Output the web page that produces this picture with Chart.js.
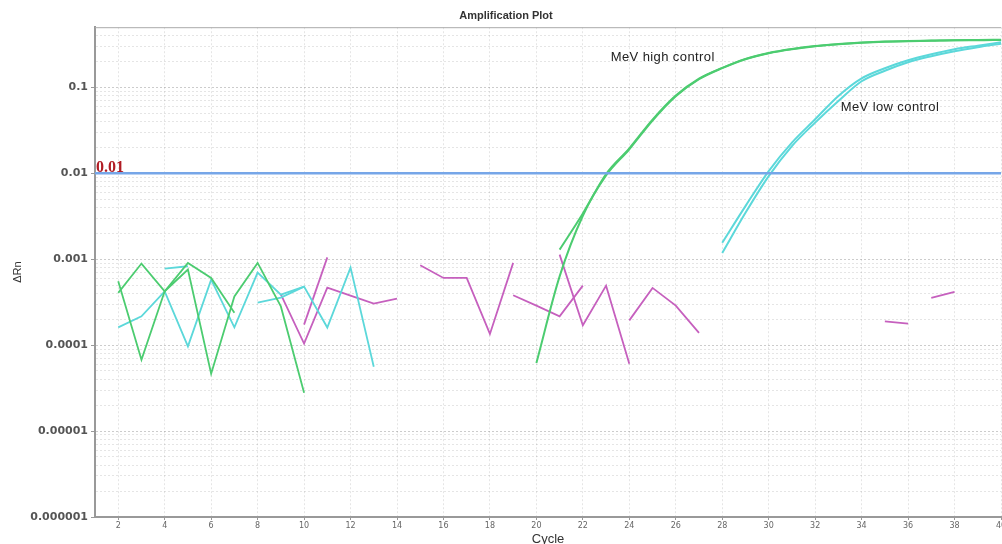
<!DOCTYPE html>
<html><head><meta charset="utf-8">
<script src="https://cdn.jsdelivr.net/npm/chart.js@4/dist/chart.umd.min.js"></script>
<style>
html,body{margin:0;padding:0;background:#fff;overflow:hidden;width:1002px;height:544px}
#wrap{position:relative;width:1016px;height:547px}
</style>
</head><body>
<div id="wrap"><canvas id="c" width="1016" height="547"></canvas></div>
<script>
// ---- axis / tick definitions ----
const cycleMin = 1, cycleMax = 40;
const xTickCycles = [2,4,6,8,10,12,14,16,18,20,22,24,26,28,30,32,34,36,38,40];
const yDecades = [0.000001, 0.00001, 0.0001, 0.001, 0.01, 0.1];
const yMinorMultipliers = [2,3,4,5,6,7,8,9];
const yMin = 0.000001, yMax = 0.5;
const thresholdValue = 0.01;

// ---- amplification curves ----
const highCtrlA_start = 20;
const highCtrlA = [0.000062, 0.00063, 0.0032, 0.0094, 0.019, 0.041, 0.0785, 0.124, 0.167, 0.212, 0.249, 0.277, 0.300, 0.317, 0.330, 0.339, 0.344, 0.348, 0.353, 0.353, 0.356];
const highCtrlB_start = 21;
const highCtrlB = [0.00129, 0.0034, 0.0098, 0.0195, 0.042, 0.080, 0.126, 0.168, 0.214, 0.251, 0.279, 0.302, 0.318, 0.331, 0.340, 0.345, 0.349, 0.353, 0.355, 0.357];
const lowCtrlA_start = 28;
const lowCtrlA = [0.00155, 0.00414, 0.0106, 0.0227, 0.0424, 0.0792, 0.127, 0.1665, 0.206, 0.242, 0.277, 0.305, 0.334];
const lowCtrlB_start = 28;
const lowCtrlB = [0.00118, 0.00346, 0.00925, 0.0207, 0.0388, 0.0692, 0.1175, 0.1557, 0.1956, 0.2298, 0.2628, 0.2926, 0.3214];

// ---- background noise traces ----
const greenNoise1_start = 2;
const greenNoise1 = [0.000553, 0.0000676, 0.000423, 0.000756, 0.0000464, 0.000369, 0.000905, 0.000282, 0.0000279];
const greenNoise2_start = 2;
const greenNoise2 = [0.000405, 0.000889, 0.000423, 0.000905, 0.000605, 0.000238];
const cyanNoise1_start = 2;
const cyanNoise1 = [0.000161, 0.000216, 0.000423, 0.0000966, 0.000578, 0.000161, 0.000698, 0.000387, 0.000479, 0.00016, 0.000798, 0.000056];
const cyanNoise2_start = 4;
const cyanNoise2 = [0.000777, 0.000827];
const cyanNoise3_start = 8;
const cyanNoise3 = [0.000312, 0.000357, 0.000479];
const magNoise1_start = 10;
const magNoise1 = [0.000173, 0.00105];
const magNoise2_start = 9;
const magNoise2 = [0.00039, 0.000104, 0.000467, 0.000377, 0.000304, 0.000347];
const magNoise3_start = 15;
const magNoise3 = [0.000849, 0.000605, 0.000605, 0.000135, 0.000905];
const magNoise4_start = 19;
const magNoise4 = [0.00038, 0.000288, 0.000216, 0.000492];
const magNoise5_start = 21;
const magNoise5 = [0.00113, 0.00017, 0.000492, 0.0000607];
const magNoise6_start = 24;
const magNoise6 = [0.000194, 0.000463, 0.000288, 0.000139];
const magNoise7_start = 35;
const magNoise7 = [0.000189, 0.000178];
const magNoise8_start = 37;
const magNoise8 = [0.000354, 0.000416];

const labels = [
  {text: 'MeV high control', x: 23.2, y: 0.224},
  {text: 'MeV low control', x: 33.1, y: 0.0585}
];

const GREEN = 'rgb(76,204,112)';
const CYAN = 'rgb(92,216,218)';
const MAG = 'rgb(198,96,190)';
const BLUE = 'rgb(118,166,232)';

function pts(start, vals){ return vals.map((v,i)=>({x:start+i, y:v})); }
function ds(data, color, w, smooth){
  const d = {data, borderColor: color, borderWidth: w, pointRadius: 0, fill:false, tension:0};
  if (smooth) d.cubicInterpolationMode = 'monotone';
  return d;
}
function isDecade(v){ const l = Math.log10(v); return Math.abs(l - Math.round(l)) < 1e-6; }

const annot = {
  id: 'annot',
  beforeDatasetsDraw(chart){
    const {ctx, chartArea:a} = chart;
    ctx.save();
    ctx.strokeStyle = '#aaa'; ctx.lineWidth = 1;
    ctx.beginPath(); ctx.moveTo(a.left, a.top+0.5); ctx.lineTo(a.right, a.top+0.5); ctx.stroke();
    ctx.restore();
  },
  afterDatasetsDraw(chart){
    const {ctx, scales:{x,y}} = chart;
    ctx.save();
    ctx.fillStyle = '#b01c24';
    ctx.font = 'bold 16px "Liberation Serif", serif';
    ctx.textBaseline = 'alphabetic'; ctx.textAlign = 'left';
    ctx.fillText(String(thresholdValue), x.getPixelForValue(cycleMin)+1, y.getPixelForValue(thresholdValue)-1);
    ctx.fillStyle = '#222';
    ctx.font = '13px "Liberation Sans", Arial, sans-serif';
    try { ctx.letterSpacing = '0.4px'; } catch(e) {}
    ctx.textBaseline = 'middle';
    labels.forEach(l => ctx.fillText(l.text, x.getPixelForValue(l.x), y.getPixelForValue(l.y)));
    ctx.restore();
  }
};

const datasets = [
  ds([{x:cycleMin,y:thresholdValue},{x:cycleMax,y:thresholdValue}], BLUE, 2.5),
  ds(pts(highCtrlA_start, highCtrlA), GREEN, 2, true),
  ds(pts(highCtrlB_start, highCtrlB), GREEN, 2, true),
  ds(pts(lowCtrlA_start, lowCtrlA), CYAN, 2, true),
  ds(pts(lowCtrlB_start, lowCtrlB), CYAN, 2, true),
  ds(pts(greenNoise1_start, greenNoise1), GREEN, 1.8),
  ds(pts(greenNoise2_start, greenNoise2), GREEN, 1.8),
  ds(pts(cyanNoise1_start, cyanNoise1), CYAN, 1.8),
  ds(pts(cyanNoise2_start, cyanNoise2), CYAN, 1.8),
  ds(pts(cyanNoise3_start, cyanNoise3), CYAN, 1.8),
  ds(pts(magNoise1_start, magNoise1), MAG, 1.8),
  ds(pts(magNoise2_start, magNoise2), MAG, 1.8),
  ds(pts(magNoise3_start, magNoise3), MAG, 1.8),
  ds(pts(magNoise4_start, magNoise4), MAG, 1.8),
  ds(pts(magNoise5_start, magNoise5), MAG, 1.8),
  ds(pts(magNoise6_start, magNoise6), MAG, 1.8),
  ds(pts(magNoise7_start, magNoise7), MAG, 1.8),
  ds(pts(magNoise8_start, magNoise8), MAG, 1.8)
];

new Chart(document.getElementById('c'), {
  type: 'line',
  data: {datasets},
  plugins: [annot],
  options: {
    responsive: false,
    animation: false,
    layout: {padding: {left: 11, right: 15, top: 0, bottom: 0}},
    plugins: {
      legend: {display: false},
      tooltip: {enabled: false},
      title: {display: true, text: 'Amplification Plot', color: '#333',
        font: {family: '"Liberation Sans", Arial, sans-serif', size: 11, weight: 'bold'},
        padding: {top: 9, bottom: 5}}
    },
    scales: {
      x: {
        type: 'linear', min: cycleMin, max: cycleMax,
        afterBuildTicks: s => { s.ticks = xTickCycles.map(v => ({value: v})); },
        afterFit: s => { s.height = 30; },
        ticks: {autoSkip: false, maxRotation: 0, padding: 1, color: '#666',
          font: {family: '"DejaVu Sans", sans-serif', size: 8}},
        grid: {color: 'rgba(0,0,0,0.10)', lineWidth: 1, tickLength: 3, tickColor: '#999'},
        border: {color: '#999', width: 2, dash: [2,2]},
        title: {display: true, text: 'Cycle', color: '#333', padding: 0,
          font: {family: '"Liberation Sans", Arial, sans-serif', size: 13}}
      },
      y: {
        type: 'logarithmic', min: yMin, max: yMax,
        afterBuildTicks: s => {
          const t = [];
          yDecades.forEach(d => { t.push({value: d, major: true}); yMinorMultipliers.forEach(m => { const v = +(d*m).toPrecision(6); if (v < yMax) t.push({value: v, major: false}); }); });
          s.ticks = t;
        },
        afterFit: s => { s.width = 84; },
        ticks: {autoSkip: false, padding: 3, color: '#555',
          font: {family: '"DejaVu Sans", sans-serif', size: 11, weight: 'bold'},
          callback: (v) => isDecade(v) ? v.toFixed(Math.round(-Math.log10(v))) : ''},
        grid: {
          color: c => (c.tick && isDecade(c.tick.value)) ? 'rgba(0,0,0,0.20)' : 'rgba(0,0,0,0.10)',
          tickColor: c => (c.tick && isDecade(c.tick.value)) ? '#999' : 'rgba(0,0,0,0)',
          tickLength: 4, lineWidth: 1
        },
        border: {color: '#999', width: 2, dash: [2,2]},
        title: {display: true, text: 'ΔRn', color: '#333', padding: 0,
          font: {family: '"Liberation Sans", Arial, sans-serif', size: 11}}
      }
    }
  }
});
</script>
</body></html>
